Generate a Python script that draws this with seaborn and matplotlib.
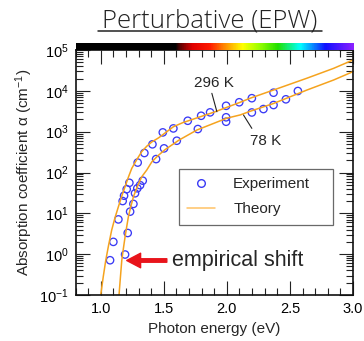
import numpy as np
import pandas as pd
import matplotlib
matplotlib.use("Agg")
import matplotlib.pyplot as plt
import seaborn as sns
from matplotlib.lines import Line2D
from matplotlib.colors import LinearSegmentedColormap
from matplotlib.ticker import FixedLocator, FixedFormatter, MultipleLocator, LogLocator, NullFormatter

# ---- measured absorption (open circles) ----
exp_296_energy = [1.074, 1.100, 1.140, 1.174, 1.185, 1.206, 1.227, 1.293, 1.346, 1.410,
                  1.492, 1.576, 1.690, 1.796, 1.867, 1.994, 2.098, 2.198, 2.370]
exp_296_alpha = [0.71, 2.0, 7.1, 20, 27, 39, 56, 175, 300, 490,
                 960, 1200, 1850, 2450, 2970, 4300, 5250, 6600, 9000]

exp_78_energy = [1.193, 1.214, 1.233, 1.259, 1.272, 1.290, 1.312, 1.333, 1.439, 1.502,
                 1.603, 1.770, 1.994, 1.994, 2.198, 2.290, 2.370, 2.468, 2.563]
exp_78_alpha = [0.98, 3.3, 11, 17, 31, 41, 49, 63, 213, 390,
                600, 1160, 1750, 2250, 2950, 3580, 4490, 6200, 9900]

# ---- EPW theory curves ----
th_296_energy = [1.000, 1.020, 1.040, 1.063, 1.087, 1.113, 1.140, 1.166, 1.193, 1.220,
                 1.246, 1.285, 1.325, 1.365, 1.405, 1.460, 1.576, 1.650, 1.900, 2.106,
                 2.185, 2.370, 2.635, 2.846, 3.000]
th_296_alpha = [0.1, 0.28, 0.71, 1.7, 3.9, 7.8, 14.5, 26, 45, 78,
                126, 205, 324, 440, 560, 710, 1320, 1660, 3020, 5250,
                6600, 10470, 20400, 35500, 56900]

th_78_energy = [1.145, 1.156, 1.167, 1.180, 1.193, 1.206, 1.219, 1.239, 1.259, 1.290,
                1.325, 1.365, 1.405, 1.455, 1.510, 1.620, 1.762, 2.000, 2.106, 2.185,
                2.370, 2.635, 2.846, 3.000]
th_78_alpha = [0.1, 0.27, 0.71, 1.4, 2.66, 4.7, 8.2, 14.8, 25.4, 45,
               78.5, 115, 182, 260, 363, 620, 1096, 2140, 2570, 3160,
               4900, 10470, 18400, 29500]

x_ticks = [1.0, 1.5, 2.0, 2.5, 3.0]
x_tick_labels = ["1.0", "1.5", "2.0", "2.5", "3.0"]
y_ticks = [1e-1, 1e0, 1e1, 1e2, 1e3, 1e4, 1e5]
y_tick_labels = ["$10^{-1}$", "$10^{0}$", "$10^{1}$", "$10^{2}$", "$10^{3}$", "$10^{4}$", "$10^{5}$"]

# visible-spectrum strip above the axes (photon energy in eV -> colour)
strip_energy = [0.80, 1.59, 1.62, 1.72, 1.86, 1.98, 2.12, 2.25, 2.40, 2.58, 2.78, 3.00]
strip_colors = ["#000000", "#000000", "#5a0000", "#e00000", "#ff1a00", "#ff8c00",
                "#ffff00", "#9cff00", "#20e000", "#00ffff", "#1010ff", "#8a20ff"]

sns.set_style("ticks")
plt.rcParams["font.family"] = ["Liberation Sans", "DejaVu Sans"]
plt.rcParams["mathtext.fontset"] = "custom"
plt.rcParams["mathtext.rm"] = "Liberation Sans"
plt.rcParams["mathtext.it"] = "Liberation Sans:italic"

orange = "#f5a31e"
blue = "#3a3af5"

fig = plt.figure(figsize=(3.64, 3.41), dpi=100)
W, H = 364.0, 341.0
ax = fig.add_axes([75.5 / W, 1 - 295 / H, 277.5 / W, 245 / H])
cax = fig.add_axes([75.5 / W, 1 - 50 / H, 277.5 / W, 7 / H])

theory = pd.concat([
    pd.DataFrame({"E": th_296_energy, "alpha": th_296_alpha, "T": "296 K"}),
    pd.DataFrame({"E": th_78_energy, "alpha": th_78_alpha, "T": "78 K"}),
])
experiment = pd.concat([
    pd.DataFrame({"E": exp_296_energy, "alpha": exp_296_alpha, "T": "296 K"}),
    pd.DataFrame({"E": exp_78_energy, "alpha": exp_78_alpha, "T": "78 K"}),
])

sns.lineplot(data=theory, x="E", y="alpha", units="T", estimator=None, sort=False,
             color=orange, lw=1.1, ax=ax, legend=False)
sns.scatterplot(data=experiment, x="E", y="alpha", marker="o", s=28,
                facecolor="none", edgecolor=blue, linewidth=0.95, ax=ax, legend=False)

ax.set_yscale("log")
ax.set_xlim(0.8, 3.0)
ax.set_ylim(1e-1, 1e5)
ax.xaxis.set_major_locator(FixedLocator(x_ticks))
ax.xaxis.set_major_formatter(FixedFormatter(x_tick_labels))
ax.xaxis.set_minor_locator(MultipleLocator(0.1))
ax.yaxis.set_major_locator(FixedLocator(y_ticks))
ax.yaxis.set_major_formatter(FixedFormatter(y_tick_labels))
ax.yaxis.set_minor_locator(LogLocator(base=10, subs=np.arange(2, 10)))
ax.yaxis.set_minor_formatter(NullFormatter())

ax.tick_params(which="both", direction="in", top=True, right=True, width=0.8,
               colors="#222222", labelcolor="black", labelsize=10.5)
ax.tick_params(which="major", length=10, pad=5)
ax.tick_params(which="minor", length=5)
for sp in ax.spines.values():
    sp.set_linewidth(1.2)
    sp.set_color("#111111")

ax.set_xlabel("Photon energy (eV)", fontsize=11, labelpad=4)
ax.set_ylabel("Absorption coefficient \u03b1 (cm$^{-1}$)", fontsize=11, labelpad=3)

# temperature labels with leader lines
ax.text(1.894, 15280, "296 K", fontsize=11, ha="center", va="center")
ax.plot([1.881, 1.921], [10**3.939, 10**3.488], color="#222222", lw=0.8)
ax.text(2.304, 589, "78 K", fontsize=11, ha="center", va="center")
ax.plot([2.132, 2.198], [10**3.407, 10**3.081], color="#222222", lw=0.8)

# empirical shift annotation
ax.annotate("", xy=(1.206, 0.70), xytext=(1.524, 0.70),
            arrowprops=dict(arrowstyle="simple,head_length=1.0,head_width=1.05,tail_width=0.25",
                            color="#e8141b", mutation_scale=10, shrinkA=0, shrinkB=0))
ax.text(1.563, 0.71, "empirical shift", fontsize=15.5, ha="left", va="center")

handles = [
    Line2D([], [], marker="o", ls="none", markersize=5.5, markerfacecolor="none",
           markeredgecolor=blue, markeredgewidth=1.0),
    Line2D([], [], color="#ffc266", lw=1.1),
]
leg = ax.legend(handles, ["Experiment", "Theory"], loc="upper left",
                bbox_to_anchor=(0.373, 0.273, 0.555, 0.241), mode="expand",
                fontsize=11, frameon=True, fancybox=False, borderaxespad=0,
                handlelength=1.8, handletextpad=1.2, labelspacing=0.7, borderpad=0.55)
leg.get_frame().set_edgecolor("#444444")
leg.get_frame().set_linewidth(0.9)

# spectrum strip
cmap = LinearSegmentedColormap.from_list(
    "spectrum", [((e - 0.8) / 2.2, c) for e, c in zip(strip_energy, strip_colors)])
grad = np.linspace(0.8, 3.0, 400)[None, :]
cax.imshow(grad, cmap=cmap, aspect="auto", extent=[0.8, 3.0, 0, 1], vmin=0.8, vmax=3.0)
cax.set_axis_off()

# title with underline
fig.text(210 / W, 1 - 27 / H, "Perturbative (EPW)", ha="center", va="baseline",
         fontsize=18.5, family=["Open Sans", "DejaVu Sans"], fontweight="light",
         color="#222222")
fig.add_artist(Line2D([98 / W, 322 / W], [1 - 30.5 / H, 1 - 30.5 / H], color="#222222",
                      lw=1.1, transform=fig.transFigure))

fig.savefig("out.png", dpi=100)
